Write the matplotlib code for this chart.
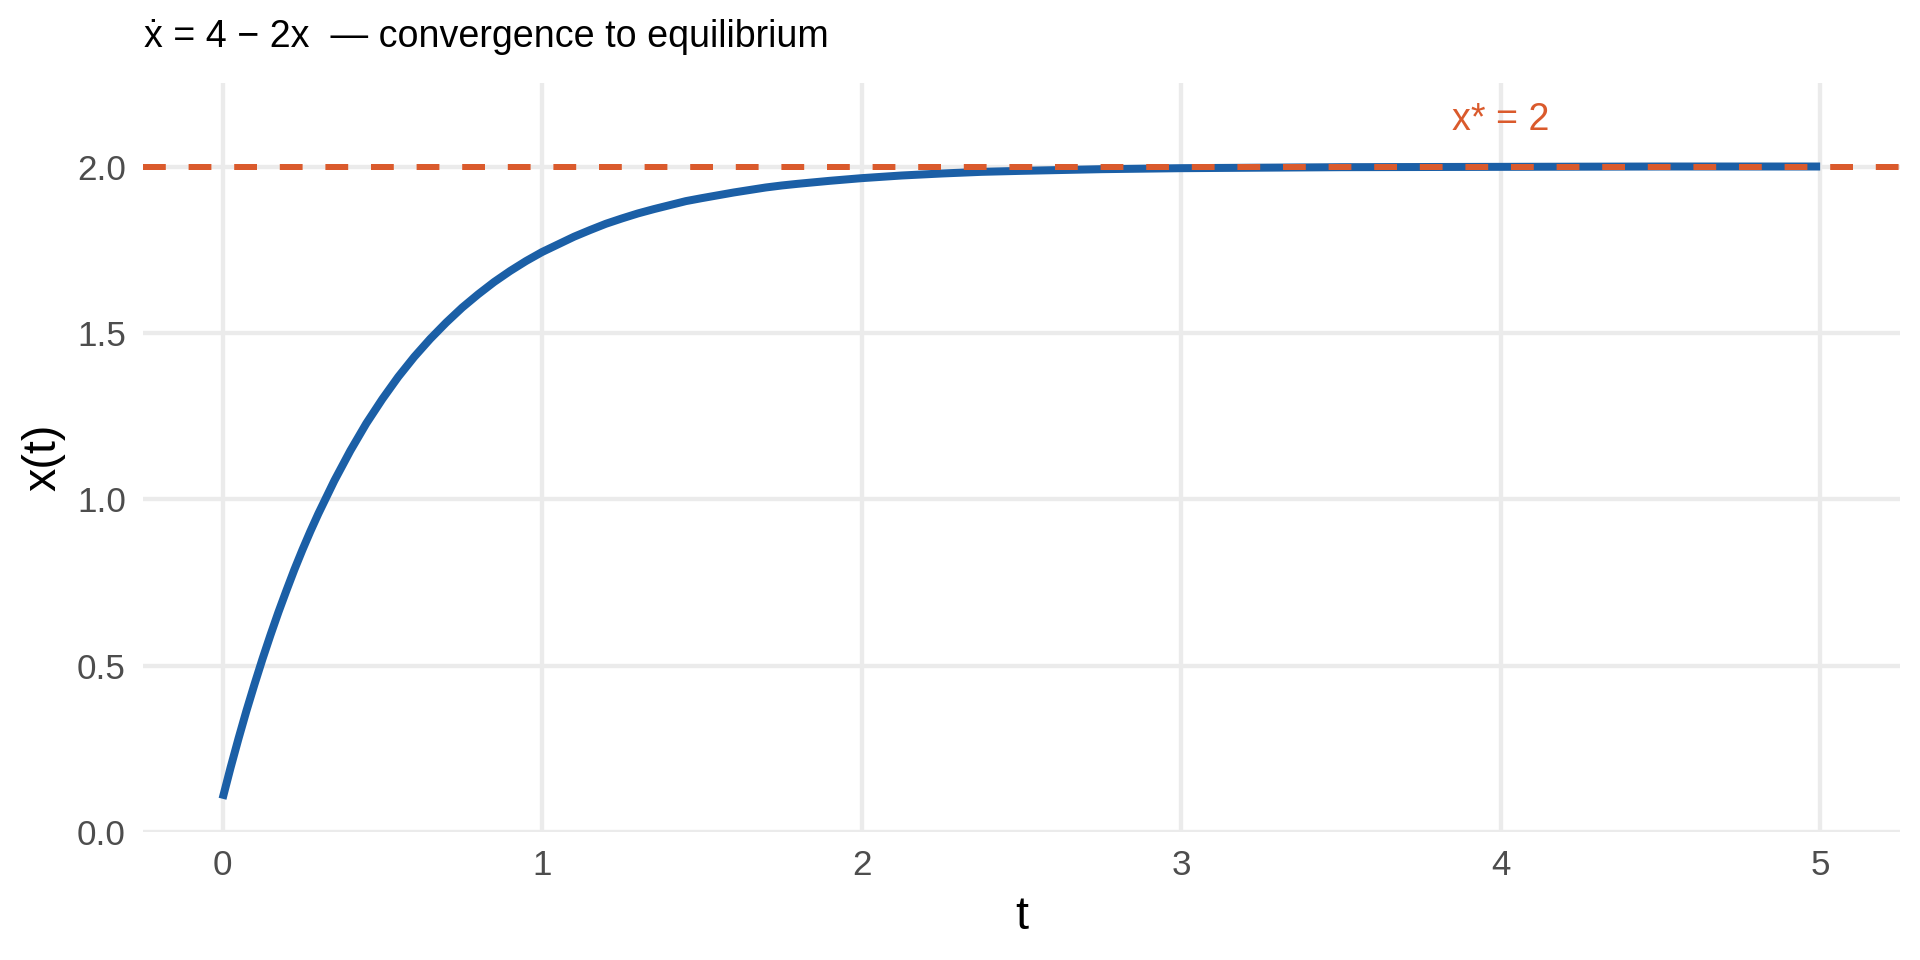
import matplotlib
matplotlib.use("Agg")
import matplotlib.pyplot as plt

plt.rcParams['font.family'] = ['Liberation Sans', 'DejaVu Sans']

# values
t_vals = [0.0, 0.025, 0.05, 0.075, 0.1, 0.125, 0.15, 0.175, 0.2, 0.225, 0.25,
          0.275, 0.3, 0.35, 0.4, 0.45, 0.5, 0.55, 0.6, 0.65, 0.7, 0.75, 0.8,
          0.85, 0.9, 0.95, 1.0, 1.1, 1.15, 1.2, 1.25, 1.3, 1.35, 1.4, 1.45,
          1.5, 1.6, 1.7, 1.75, 1.8, 1.9, 2.0, 2.125, 2.25, 2.375, 2.5, 2.75,
          3.0, 3.5, 4.0, 4.5, 5.0]
x_vals = [0.100, 0.193, 0.281, 0.365, 0.444, 0.520, 0.592, 0.661, 0.726, 0.789,
          0.848, 0.904, 0.957, 1.056, 1.146, 1.228, 1.301, 1.368, 1.428, 1.482,
          1.531, 1.576, 1.616, 1.653, 1.686, 1.716, 1.743, 1.789, 1.809, 1.828,
          1.844, 1.859, 1.872, 1.884, 1.896, 1.905, 1.922, 1.937, 1.943, 1.948,
          1.957, 1.965, 1.973, 1.979, 1.984, 1.987, 1.992, 1.995, 1.998, 1.999,
          2.000, 2.000]
x_star = 2.0
x_ticks = [0, 1, 2, 3, 4, 5]
y_ticks = [0.0, 0.5, 1.0, 1.5, 2.0]
y_tick_labels = ["0.0", "0.5", "1.0", "1.5", "2.0"]

blue = "#1b5fa6"
orange = "#da5a2c"
grid = "#ebebeb"

fig = plt.figure(figsize=(8, 4), dpi=240)
ax = fig.add_axes([0.0743, 0.1333, 0.9896 - 0.0743, 0.9132 - 0.1333])

ax.plot(t_vals, x_vals, color=blue, lw=2.4, solid_capstyle='butt',
        solid_joinstyle='round', zorder=3)
ax.axhline(x_star, color=orange, lw=1.8, linestyle=(0, (3.8, 3.8)), zorder=4)
ax.text(4.0, 2.14, "x* = 2", color=orange, fontsize=11.3, ha='center', va='center')

ax.set_xlim(-0.25, 5.25)
ax.set_ylim(0, 2.25)
ax.set_xticks(x_ticks)
ax.set_yticks(y_ticks)
ax.set_yticklabels(y_tick_labels)
ax.tick_params(length=0, labelsize=10.5, labelcolor="#4d4d4d", pad=5)
ax.grid(True, color=grid, lw=1.3)
ax.set_axisbelow(True)
for s in ax.spines.values():
    s.set_visible(False)

ax.set_xlabel("t", fontsize=14, labelpad=4)
ax.set_ylabel("x(t)", fontsize=14, labelpad=3.5)

fig.text(144 / 1920, 1 - 37 / 960, "ẋ = 4 − 2x  — convergence to equilibrium",
         fontsize=11.3, ha='left', va='center')

fig.savefig("out.png", dpi=240)
